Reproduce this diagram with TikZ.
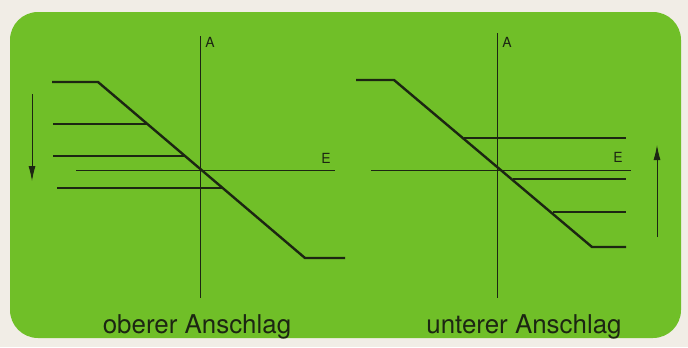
\documentclass[tikz,border=0pt]{standalone}
\usepackage{fontspec}
\setmainfont{TeX Gyre Heros}
\usetikzlibrary{arrows.meta}
\definecolor{paper}{RGB}{241,237,230}
\definecolor{panelgreen}{RGB}{112,191,40}
\definecolor{ink}{RGB}{28,38,18}
\tikzset{
  axis/.style={draw=ink, line width=0.9bp},
  curve/.style={draw=ink, line width=2.4bp, line join=miter},
  level/.style={draw=ink, line width=2.4bp},
  shiftarrow/.style={draw=ink, line width=0.9bp, -{Latex[length=15bp,width=7bp]}},
  axlabel/.style={text=ink, font=\fontsize{14}{14}\selectfont, inner sep=0pt},
  caption/.style={text=ink, font=\fontsize{26}{28}\selectfont, inner sep=0pt, anchor=base},
}
\begin{document}
\begin{tikzpicture}[x=1bp,y=-1bp]
\useasboundingbox (0,0) rectangle (688,347);
\fill[paper] (0,0) rectangle (688,347);
\fill[panelgreen, rounded corners=28bp] (10,12) rectangle (681,338);

% ---------- left panel: oberer Anschlag ----------
\coordinate (LAtop) at (200,36);
\coordinate (LAbot) at (200,298);
\coordinate (LEl) at (76,170);
\coordinate (LEr) at (335,170);
\draw[axis] (LAtop) -- (LAbot);
\draw[axis] (LEl) -- (LEr);
\node[axlabel] (LA) at (210,42) {A};
\node[axlabel] (LE) at (326,158) {E};

\coordinate (L0) at (52,82);
\coordinate (L1) at (98,82);
\coordinate (L2) at (305,258);
\coordinate (L3) at (345,258);
\draw[curve] (L0) -- (L1) -- (L2) -- (L3);
\coordinate (La1) at (53,124);  \coordinate (Lb1) at (147,124);
\coordinate (La2) at (53,156);  \coordinate (Lb2) at (184,156);
\coordinate (La3) at (57,188);  \coordinate (Lb3) at (222,188);
\draw[level] (La1) -- (Lb1);
\draw[level] (La2) -- (Lb2);
\draw[level] (La3) -- (Lb3);
\coordinate (Ldn1) at (32,94);
\coordinate (Ldn2) at (32,181);
\draw[shiftarrow] (Ldn1) -- (Ldn2);
\node[caption] (Lcap) at (197,333) {oberer Anschlag};

% ---------- right panel: unterer Anschlag ----------
\coordinate (RAtop) at (497,33);
\coordinate (RAbot) at (497,298);
\coordinate (REl) at (371,170);
\coordinate (REr) at (631,170);
\draw[axis] (RAtop) -- (RAbot);
\draw[axis] (REl) -- (REr);
\node[axlabel] (RA) at (507,42) {A};
\node[axlabel] (RE) at (618,157) {E};

\coordinate (R0) at (356,80);
\coordinate (R1) at (394,80);
\coordinate (R2) at (592,247);
\coordinate (R3) at (626,247);
\draw[curve] (R0) -- (R1) -- (R2) -- (R3);
\coordinate (Ra1) at (464,138); \coordinate (Rb1) at (626,138);
\coordinate (Ra2) at (513,179); \coordinate (Rb2) at (626,179);
\coordinate (Ra3) at (553,212); \coordinate (Rb3) at (626,212);
\draw[level] (Ra1) -- (Rb1);
\draw[level] (Ra2) -- (Rb2);
\draw[level] (Ra3) -- (Rb3);
\coordinate (Rup1) at (657,237);
\coordinate (Rup2) at (657,145);
\draw[shiftarrow] (Rup1) -- (Rup2);
\node[caption] (Rcap) at (524,333) {unterer Anschlag};
\end{tikzpicture}
\end{document}
